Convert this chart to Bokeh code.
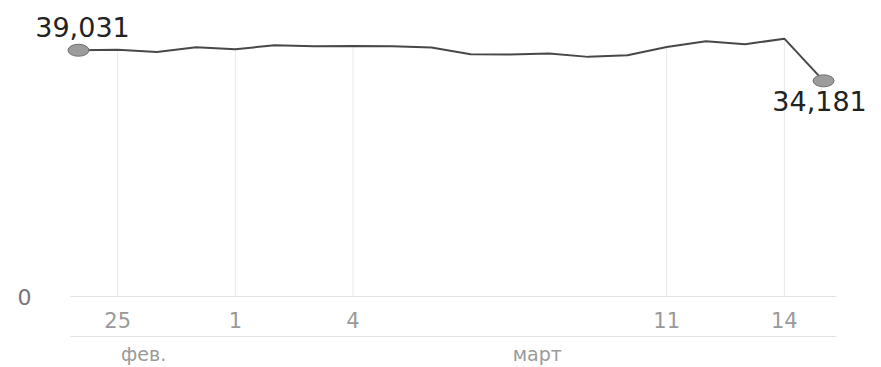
from bokeh.plotting import figure
from bokeh.models import FixedTicker, LinearAxis, Range1d
from bokeh.core.properties import value
from bokeh.embed import file_html
from bokeh.resources import INLINE

# --- data ---
values = [39031, 39110, 38760, 39500, 39190, 39820, 39660, 39710, 39660, 39450,
          38400, 38350, 38510, 37980, 38240, 39550, 40450, 39970, 40870, 34181]
idx = list(range(len(values)))
tick_idx = [1, 4, 7, 15, 18]
tick_labels = ["25", "1", "4", "11", "14"]
month_pos = [1.66, 11.7]
month_labels = ["фев.", "март"]
y_ticks = [0]
y_tick_labels = ["0"]

FONT = "DejaVu Sans"

p = figure(width=881, height=367, output_backend="svg", toolbar_location=None,
           x_range=Range1d(-0.204, 19.33), y_range=Range1d(0, 45330),
           min_border_left=70, min_border_right=45, min_border_top=10, min_border_bottom=69,
           x_axis_location=None, y_axis_location=None)
p.outline_line_color = None
p.xgrid.visible = False
p.ygrid.visible = False
p.background_fill_color = "white"
p.border_fill_color = "white"

# drop lines at ticks
p.segment(x0=tick_idx, x1=tick_idx, y0=[0]*len(tick_idx),
          y1=[values[i] for i in tick_idx], line_color="#e8e8e8", line_width=1)

# main line
p.line(idx, values, line_color="#484848", line_width=2)

# end markers
p.ellipse(x=[idx[0], idx[-1]], y=[values[0], values[-1]], width=21, height=12,
          width_units="screen", height_units="screen",
          fill_color="#9c9c9c", line_color="#6e6e6e", line_width=1, level="overlay")

p.text(x=[idx[0]], y=[values[0]], text=[f"{values[0]:,}"], text_align="center",
       text_baseline="bottom", y_offset=-13, x_offset=4, level="overlay",
       text_font=value(FONT), text_font_size="27px", text_color="#222222")
p.text(x=[idx[-1]], y=[values[-1]], text=[f"{values[-1]:,}"], text_align="center",
       text_baseline="top", y_offset=10, x_offset=-4, level="overlay",
       text_font=value(FONT), text_font_size="27px", text_color="#222222")

# x axis (day ticks)
xa = LinearAxis(ticker=FixedTicker(ticks=tick_idx),
                major_label_overrides={k: v for k, v in zip(tick_idx, tick_labels)})
xa.axis_line_color = "#e3e3e3"
xa.major_tick_line_color = None
xa.minor_tick_line_color = None
xa.major_label_standoff = 9
xa.major_label_text_font = FONT
xa.major_label_text_font_size = "21px"
xa.major_label_text_color = "#9a9a9a"
xa.axis_label = " "
xa.axis_label_text_font_size = "1px"
xa.axis_label_standoff = 2
p.add_layout(xa, "below")

# month axis
ma = LinearAxis(ticker=FixedTicker(ticks=month_pos),
                major_label_overrides={k: v for k, v in zip(month_pos, month_labels)})
ma.axis_line_color = "#e3e3e3"
ma.major_tick_line_color = None
ma.minor_tick_line_color = None
ma.major_label_standoff = 0
ma.major_label_text_font = FONT
ma.major_label_text_font_size = "19px"
ma.major_label_text_color = "#9a9a9a"
p.add_layout(ma, "below")

# y axis
ya = LinearAxis(ticker=FixedTicker(ticks=y_ticks),
                major_label_overrides={k: v for k, v in zip(y_ticks, y_tick_labels)})
ya.axis_line_color = None
ya.major_tick_line_color = None
ya.minor_tick_line_color = None
ya.major_label_standoff = 33
ya.major_label_text_font = FONT
ya.major_label_text_font_size = "22px"
ya.major_label_text_color = "#777777"
p.add_layout(ya, "left")

open("out.html", "w").write(file_html(p, INLINE))
